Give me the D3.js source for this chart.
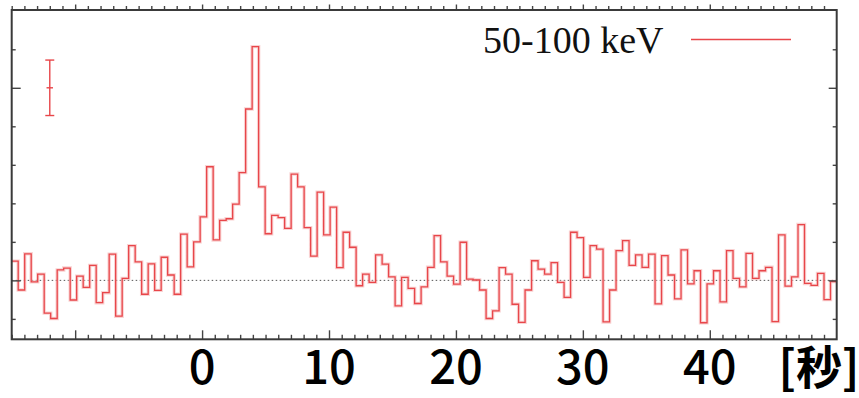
<!DOCTYPE html>
<html>
  <head>
    <meta charset="utf-8">
    <style>
      body { margin: 0; background: #fff; }
      .tick-label {
        font-family: "Noto Sans CJK JP", "Noto Sans", sans-serif;
        font-weight: 500;
        font-size: 47px;
        fill: #000;
      }
      .legend-text {
        font-family: "Liberation Serif", "DejaVu Serif", serif;
        font-size: 38px;
        fill: #111;
      }
    </style>
    <script src="https://d3js.org/d3.v7.min.js"></script>
  </head>

  <body>
    <svg width="859" height="398"></svg>

    <script>
      // light curve, 50-100 keV, bins of 0.512 s starting at -15 s
      var binStart = -15,
        binWidth = 0.512;
      var counts = [
        0.50, -0.25, 0.69, -0.04, 0.16, -0.85, -0.99, 0.27, 0.32, -0.51,
        0.11, -0.18, 0.39, -0.58, -0.32, 0.68, -0.93, 0.05, 0.90, 0.48,
        -0.36, 0.43, -0.26, 0.60, 0.14, -0.36, 1.20, 0.35, 1.00, 1.65,
        2.95, 1.05, 1.56, 1.60, 1.98, 2.80, 4.45, 6.07, 2.43, 1.21,
        1.69, 1.63, 1.35, 2.76, 2.43, 1.37, 0.63, 2.29, 1.18, 1.90,
        0.33, 1.25, 0.86, -0.14, 0.16, -0.05, 0.66, 0.42, 0.09, -0.66,
        0.08, -0.21, -0.60, -0.17, 0.34, 1.16, 0.48, 0.11, -0.10, 0.99,
        0.03, 0.01, -0.25, -0.99, -0.79, 0.33, 0.16, -0.62, -1.09, -0.25,
        0.51, 0.29, 0.16, 0.46, -0.05, -0.44, 1.25, 1.11, 0.08, 0.90,
        0.81, -1.08, -0.25, 0.77, 1.03, 0.39, 0.66, 0.34, 0.68, -0.61,
        0.64, 0.14, -0.48, 0.79, -0.09, 0.25, -1.10, -0.09, 0.25, -0.56,
        0.77, 0.05, -0.17, 0.70, 0.05, 0.25, 0.34, -1.07, 1.18, -0.15,
        0.09, 1.45, -0.08, -0.13, 0.18, -0.50, -0.03
      ];
      var xLabels = [0, 10, 20, 30, 40];
      var unitLabel = "[秒]";
      var legendLabel = "50-100 keV";
      // typical error bar drawn in the corner
      var errT = -12.0,
        errV = 5,
        errSize = 0.72;

      var svg = d3.select("svg");
      var plotL = 11.7,
        plotR = 836.7,
        plotT = 10,
        plotB = 339.3;

      var x = d3.scaleLinear().domain([-15, 50]).range([plotL, plotR]);
      var y = d3.scaleLinear().domain([-1.53, 7.02]).range([plotB, plotT]);

      var red = "#e8464a";

      // zero line
      svg.append("line")
        .attr("x1", plotL)
        .attr("x2", plotR)
        .attr("y1", y(0))
        .attr("y2", y(0))
        .attr("stroke", "#555")
        .attr("stroke-width", 1)
        .attr("stroke-dasharray", "1.5,2.5");

      // step curve
      var pts = counts.map(function (d, i) {
        return [binStart + i * binWidth, d];
      });
      pts.push([50, counts[counts.length - 1]]);

      var line = d3.line()
        .x(function (d) { return x(d[0]); })
        .y(function (d) { return y(d[1]); })
        .curve(d3.curveStepAfter);

      svg.append("path")
        .attr("d", line(pts))
        .attr("fill", "none")
        .attr("stroke", "#f5b4b4")
        .attr("stroke-width", 3.4)
        .attr("opacity", 0.6);
      svg.append("path")
        .attr("d", line(pts))
        .attr("fill", "none")
        .attr("stroke", red)
        .attr("stroke-width", 1.3);

      // error bar
      var eb = svg.append("g").attr("stroke", red).attr("stroke-width", 1.4);
      eb.append("line")
        .attr("x1", x(errT)).attr("x2", x(errT))
        .attr("y1", y(errV - errSize)).attr("y2", y(errV + errSize));
      eb.append("line")
        .attr("x1", x(errT) - 4.5).attr("x2", x(errT) + 4.5)
        .attr("y1", y(errV + errSize)).attr("y2", y(errV + errSize));
      eb.append("line")
        .attr("x1", x(errT) - 4.5).attr("x2", x(errT) + 4.5)
        .attr("y1", y(errV - errSize)).attr("y2", y(errV - errSize));
      eb.append("line")
        .attr("x1", x(errT - binWidth / 2)).attr("x2", x(errT + binWidth / 2))
        .attr("y1", y(errV)).attr("y2", y(errV));

      // ticks
      var minorX = d3.range(-15, 51, 1).filter(function (d) { return d % 10 !== 0; });
      var majorX = d3.range(-10, 50, 10);
      var minorY = [-1, 1, 2, 3, 4, 6];
      var majorY = [0, 5];

      function ticks(axis, vals, size, tx, ty) {
        var g = svg.append("g")
          .attr("transform", "translate(" + tx + "," + ty + ")")
          .call(axis.tickValues(vals).tickSize(size).tickFormat(""));
        g.select(".domain").remove();
        g.selectAll("line").attr("stroke", "#444").attr("stroke-width", 1.4);
      }
      ticks(d3.axisTop(x), minorX, 4.5, 0, plotB);
      ticks(d3.axisTop(x), majorX, 9, 0, plotB);
      ticks(d3.axisTop(x), minorX, 4, 0, plotT);
      ticks(d3.axisTop(x), majorX, 5.5, 0, plotT);
      ticks(d3.axisRight(y), minorY, 4, plotL, 0);
      ticks(d3.axisRight(y), majorY, 9, plotL, 0);
      ticks(d3.axisLeft(y), minorY, 4, plotR, 0);
      ticks(d3.axisLeft(y), majorY, 8, plotR, 0);

      // frame
      svg.append("rect")
        .attr("x", plotL)
        .attr("y", plotT)
        .attr("width", plotR - plotL)
        .attr("height", plotB - plotT)
        .attr("fill", "none")
        .attr("stroke", "#3a3a3a")
        .attr("stroke-width", 2);

      // x tick labels
      svg.selectAll(".tick-label")
        .data(xLabels)
        .enter()
        .append("text")
        .attr("class", "tick-label")
        .attr("x", function (d) { return x(d); })
        .attr("y", 384)
        .attr("text-anchor", "middle")
        .text(function (d) { return d; });

      svg.append("text")
        .attr("class", "tick-label")
        .attr("x", 819)
        .attr("y", 384)
        .attr("text-anchor", "middle")
        .style("font-size", "46px")
        .style("font-weight", 700)
        .text(unitLabel);

      // legend
      svg.append("text")
        .attr("class", "legend-text")
        .attr("x", 483)
        .attr("y", 53)
        .text(legendLabel);
      svg.append("line")
        .attr("x1", 691)
        .attr("x2", 791)
        .attr("y1", 39.5)
        .attr("y2", 39.5)
        .attr("stroke", red)
        .attr("stroke-width", 1.4);
    </script>
  </body>
</html>
